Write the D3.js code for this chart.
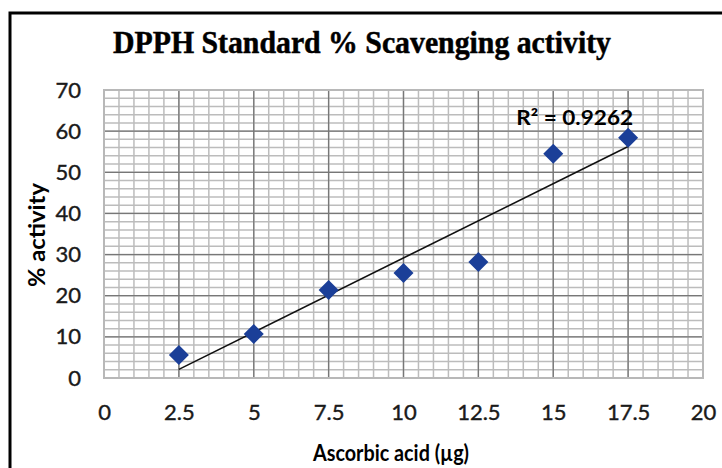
<!DOCTYPE html>
<html>
<head>
<meta charset="utf-8">
<title>DPPH Standard</title>
<script src="https://cdn.jsdelivr.net/npm/d3@7"></script>
<style>
  body { margin: 0; background: #fff; }
  .tick text { font-family: Lato, "Open Sans", sans-serif; fill: #1a1a1a; stroke: #1a1a1a; stroke-width: 0.4px; }
</style>
</head>
<body>
<div id="chart"></div>
<script>
// values
var conc = [2.5, 5, 7.5, 10, 12.5, 15, 17.5];
var activity = [5.6, 10.7, 21.4, 25.5, 28.2, 54.5, 58.4];
var xTicks = [0, 2.5, 5, 7.5, 10, 12.5, 15, 17.5, 20];
var yTicks = [0, 10, 20, 30, 40, 50, 60, 70];
var r2Label = "R² = 0.9262";

var W = 722, H = 468;
var margin = {top: 90, right: 19, bottom: 90, left: 104};
var width = W - margin.left - margin.right,
    height = H - margin.top - margin.bottom;

var svg = d3.select("#chart").append("svg")
    .attr("width", W)
    .attr("height", H);

// outer frame (left + top only visible)
svg.append("path")
    .attr("d", "M10," + (H + 5) + "V13H" + (W + 5))
    .attr("fill", "none")
    .attr("stroke", "#000")
    .attr("stroke-width", 3);

svg.append("text")
    .attr("x", 362)
    .attr("y", 53)
    .attr("text-anchor", "middle")
    .attr("font-family", "'Liberation Serif', 'DejaVu Serif', serif")
    .attr("font-weight", "bold")
    .attr("font-size", 31)
    .attr("textLength", 498)
    .attr("lengthAdjust", "spacingAndGlyphs")
    .attr("stroke", "#000").attr("stroke-width", 0.5)
    .text("DPPH Standard % Scavenging activity");

var g = svg.append("g")
    .attr("transform", "translate(" + margin.left + "," + margin.top + ")");

var x = d3.scaleLinear().domain([0, 20]).range([0, width]);
var y = d3.scaleLinear().domain([0, 70]).range([height, 0]);

// minor grid
g.append("g").selectAll("line")
    .data(d3.range(0, 20.001, 0.5))
    .enter().append("line")
    .attr("x1", function(d) { return x(d); })
    .attr("x2", function(d) { return x(d); })
    .attr("y1", 0).attr("y2", height)
    .attr("stroke", "#bcbcbc").attr("stroke-width", 1.5);

g.append("g").selectAll("line")
    .data(d3.range(0, 70.001, 2))
    .enter().append("line")
    .attr("y1", function(d) { return y(d); })
    .attr("y2", function(d) { return y(d); })
    .attr("x1", 0).attr("x2", width)
    .attr("stroke", "#bcbcbc").attr("stroke-width", 1.5);

// major grid
g.append("g").selectAll("line")
    .data(xTicks)
    .enter().append("line")
    .attr("x1", function(d) { return x(d); })
    .attr("x2", function(d) { return x(d); })
    .attr("y1", 0).attr("y2", height)
    .attr("stroke", "#777").attr("stroke-width", 1.3);

g.append("g").selectAll("line")
    .data(yTicks)
    .enter().append("line")
    .attr("y1", function(d) { return y(d); })
    .attr("y2", function(d) { return y(d); })
    .attr("x1", 0).attr("x2", width)
    .attr("stroke", "#777").attr("stroke-width", 1.3);

g.append("rect")
    .attr("width", width).attr("height", height)
    .attr("fill", "none").attr("stroke", "#b8b8b8").attr("stroke-width", 2);

// axes (labels only)
var xAxis = g.append("g")
    .attr("transform", "translate(0," + height + ")")
    .call(d3.axisBottom(x).tickValues(xTicks).tickSize(0).tickPadding(26).tickFormat(d3.format("")));
xAxis.select(".domain").remove();
xAxis.selectAll("text").attr("font-size", 22);

var yAxis = g.append("g")
    .call(d3.axisLeft(y).tickValues(yTicks).tickSize(0).tickPadding(23).tickFormat(d3.format("")));
yAxis.select(".domain").remove();
yAxis.selectAll("text").attr("font-size", 22);

// axis titles
svg.append("text")
    .attr("x", 391)
    .attr("y", 461)
    .attr("text-anchor", "middle")
    .attr("font-family", "Lato, 'Open Sans', sans-serif")
    .attr("font-weight", "bold")
    .attr("font-size", 22)
    .attr("textLength", 156)
    .attr("lengthAdjust", "spacingAndGlyphs")
    .text("Ascorbic acid (µg)");

svg.append("text")
    .attr("transform", "translate(45,235) rotate(-90)")
    .attr("text-anchor", "middle")
    .attr("font-family", "Lato, 'Open Sans', sans-serif")
    .attr("font-weight", "bold")
    .attr("font-size", 22)
    .attr("textLength", 104)
    .attr("lengthAdjust", "spacingAndGlyphs")
    .text("% activity");

// linear trendline by least squares
var mx = d3.mean(conc), my = d3.mean(activity);
var sxy = d3.sum(conc, function(c, i) { return (c - mx) * (activity[i] - my); });
var sxx = d3.sum(conc, function(c) { return (c - mx) * (c - mx); });
var slope = sxy / sxx, icpt = my - slope * mx;
var ends = d3.extent(conc);

g.append("line")
    .attr("x1", x(ends[0])).attr("y1", y(icpt + slope * ends[0]))
    .attr("x2", x(ends[1])).attr("y2", y(icpt + slope * ends[1]))
    .attr("stroke", "#111").attr("stroke-width", 1.6);

// diamonds
var diamond = d3.symbol().type(d3.symbolSquare).size(200);
g.append("g").selectAll("path")
    .data(conc)
    .enter().append("path")
    .attr("d", diamond)
    .attr("transform", function(d, i) {
        return "translate(" + x(d) + "," + y(activity[i]) + ") rotate(45)";
    })
    .attr("fill", "#1b3f98");

g.append("text")
    .attr("x", x(17.5) + 5)
    .attr("y", y(61.5))
    .attr("text-anchor", "end")
    .attr("font-family", "Lato, 'Open Sans', sans-serif")
    .attr("font-weight", "bold")
    .attr("font-size", 21)
    .attr("textLength", 117)
    .attr("lengthAdjust", "spacingAndGlyphs")
    .text(r2Label);
</script>
</body>
</html>
